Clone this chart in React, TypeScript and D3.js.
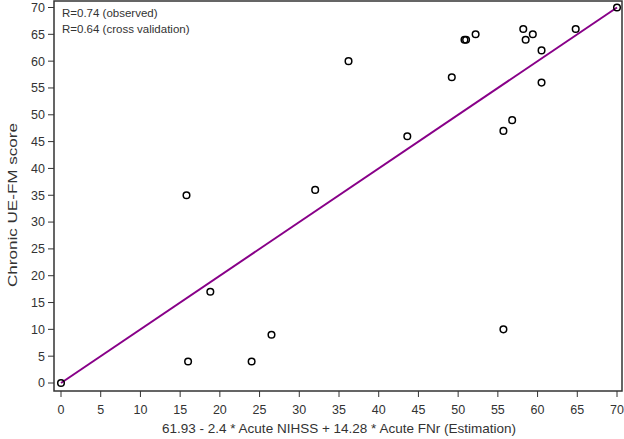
import React from "react";
import * as d3 from "d3";

const estimation = [0, 15.8, 16, 18.8, 24, 26.5, 32, 36.2, 43.6, 49.2, 50.8, 51, 52.2, 55.7, 55.7, 56.8, 58.2, 58.5, 59.4, 60.5, 60.5, 64.8, 70];
const observed = [0, 35, 4, 17, 4, 9, 36, 60, 46, 57, 64, 64, 65, 47, 10, 49, 66, 64, 65, 62, 56, 66, 70];
const tickValues = d3.range(0, 71, 5);
const fitLine = [[0, 0], [70, 70]];
const statLines = ["R=0.74 (observed)", "R=0.64 (cross validation)"];

export default function App() {
  const W = 624, H = 439;
  const frame = { l: 54, r: 622, t: 1, b: 391 };
  const x = d3.scaleLinear().domain([0, 70]).range([61, 617]);
  const y = d3.scaleLinear().domain([0, 70]).range([383, 7.5]);
  const line = d3.line<number[]>().x(d => x(d[0])).y(d => y(d[1]));
  const font = "'Liberation Sans', Arial, sans-serif";
  return (
    <svg width={W} height={H} style={{ position: "absolute", left: 0, top: 0, background: "#fff" }} fontFamily={font}>
      <rect x={0} y={0} width={W} height={H} fill="#fff" />
      <path d={line(fitLine as any) || ""} stroke="#880088" strokeWidth={2} fill="none" />
      {estimation.map((e, i) => (
        <circle key={i} cx={x(e)} cy={y(observed[i])} r={3.3} fill="none" stroke="#000" strokeWidth={1.5} />
      ))}
      <rect x={frame.l} y={frame.t} width={frame.r - frame.l} height={frame.b - frame.t} fill="none" stroke="#333" strokeWidth={1.5} />
      {tickValues.map(t => (
        <g key={"y" + t}>
          <line x1={frame.l - 6} x2={frame.l} y1={y(t)} y2={y(t)} stroke="#333" />
          <text x={frame.l - 9} y={y(t)} dy="0.35em" textAnchor="end" fontSize={12.5} fill="#333">{t}</text>
        </g>
      ))}
      {tickValues.map(t => (
        <g key={"x" + t}>
          <line x1={x(t)} x2={x(t)} y1={frame.b} y2={frame.b + 6} stroke="#333" />
          <text x={x(t)} y={frame.b + 19} dy="0.35em" textAnchor="middle" fontSize={12.5} fill="#333">{t}</text>
        </g>
      ))}
      <text x={339} y={428} dy="0.35em" textAnchor="middle" fontSize={13} textLength={354} lengthAdjust="spacingAndGlyphs" fill="#333">61.93 - 2.4 * Acute NIHSS + 14.28 * Acute FNr (Estimation)</text>
      <text transform={`translate(12,${205}) rotate(-90)`} dy="0.35em" textAnchor="middle" fontSize={13} textLength={164} lengthAdjust="spacingAndGlyphs" fill="#333">Chronic UE-FM score</text>
      {statLines.map((s, i) => (
        <text key={s} x={62} y={13 + i * 16} dy="0.35em" fontSize={11.5} fill="#333">{s}</text>
      ))}
    </svg>
  );
}
